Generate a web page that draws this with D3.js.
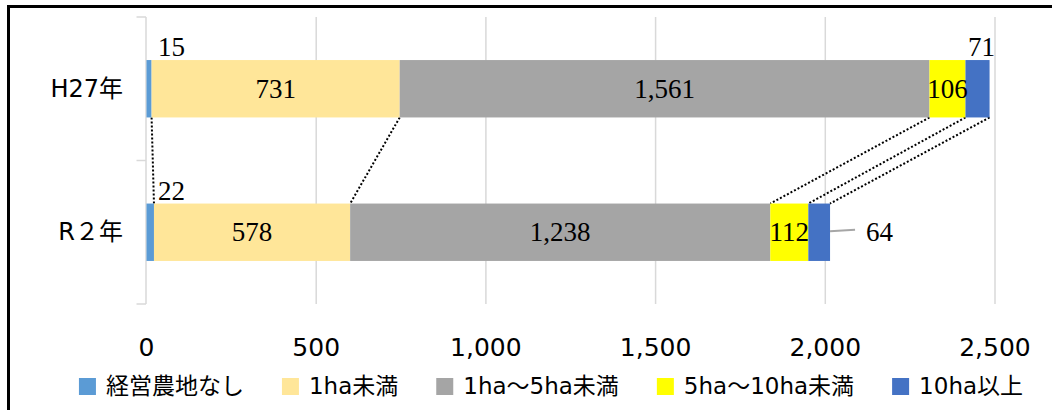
<!DOCTYPE html>
<html>
<head>
<meta charset="utf-8">
<script src="https://cdn.jsdelivr.net/npm/d3@7"></script>
<style>
  html, body { margin: 0; padding: 0; background: #fff; }
  svg { display: block; }
</style>
</head>
<body>
<svg id="chart" width="1052" height="410"></svg>
<script>
// Farm households by cultivated area, H27 vs R2
const years = ["H27年", "R２年"];
const seriesNames = ["経営農地なし", "1ha未満", "1ha～5ha未満", "5ha～10ha未満", "10ha以上"];
const seriesColors = ["#5b9bd5", "#ffe699", "#a5a5a5", "#ffff00", "#4472c4"];
const valuesH27 = [15, 731, 1561, 106, 71];
const valuesR2 = [22, 578, 1238, 112, 64];
const xTicks = [0, 500, 1000, 1500, 2000, 2500];

const rows = [valuesH27, valuesR2];

const svg = d3.select("#chart");
const W = 1052, H = 410;

// outer frame (runs off the right and bottom edges)
svg.append("path")
  .attr("d", `M8.5,${H + 5}V6.5H${W + 5}`)
  .attr("fill", "none").attr("stroke", "#000").attr("stroke-width", 3);

const x = d3.scaleLinear().domain([0, 2500]).range([146.5, 995]);
const y = d3.scaleBand().domain(years).range([17, 304]).paddingInner(0.6).paddingOuter(0.3);

// gridlines
svg.append("g").selectAll("line").data(xTicks.slice(1)).join("line")
  .attr("x1", d => x(d)).attr("x2", d => x(d))
  .attr("y1", 17).attr("y2", 304)
  .attr("stroke", "#d9d9d9").attr("stroke-width", 1.5);

// category axis line and outward ticks at band boundaries
const boundaries = [17, (y(years[0]) + y.bandwidth() + y(years[1])) / 2, 304];
svg.append("line")
  .attr("x1", x(0) - 0.5).attr("x2", x(0) - 0.5).attr("y1", 17).attr("y2", 304)
  .attr("stroke", "#d9d9d9").attr("stroke-width", 1.5);
svg.append("g").selectAll("line").data(boundaries).join("line")
  .attr("x1", x(0) - 10).attr("x2", x(0) - 0.5)
  .attr("y1", d => d).attr("y2", d => d)
  .attr("stroke", "#d9d9d9").attr("stroke-width", 1.5);

// category labels
svg.append("g").selectAll("text").data(years).join("text")
  .attr("x", 123).attr("y", d => y(d) + y.bandwidth() / 2 + 1)
  .attr("text-anchor", "end").attr("dominant-baseline", "middle")
  .attr("font-family", "'DejaVu Sans', 'Noto Sans CJK JP'")
  .attr("font-size", 24).attr("fill", "#000")
  .text(d => d);

// stacked segments
const stacked = rows.map((vals, i) => {
  let acc = 0;
  return vals.map((v, j) => {
    const s = { year: years[i], idx: j, value: v, x0: acc, x1: acc + v };
    acc += v;
    return s;
  });
});

// dotted connectors between segment boundaries of the two years
const connectors = stacked[0].map((s, j) => ({ a: s.x1, b: stacked[1][j].x1 }));
svg.append("g").selectAll("line").data(connectors).join("line")
  .attr("x1", d => x(d.a)).attr("y1", y(years[0]) + y.bandwidth())
  .attr("x2", d => x(d.b)).attr("y2", y(years[1]))
  .attr("stroke", "#000").attr("stroke-width", 2).attr("stroke-dasharray", "2 2");

svg.append("g").selectAll("rect").data(stacked.flat()).join("rect")
  .attr("x", d => x(d.x0)).attr("width", d => x(d.x1) - x(d.x0))
  .attr("y", d => y(d.year)).attr("height", y.bandwidth())
  .attr("fill", d => seriesColors[d.idx]);

// value labels
const fmt = d3.format(",");
const labelFont = "'Liberation Serif', 'Times New Roman', serif";
const labels = svg.append("g")
  .attr("font-family", labelFont).attr("font-size", 27).attr("fill", "#000");

stacked.forEach((segs, i) => {
  const top = y(years[i]);
  const mid = top + y.bandwidth() / 2;
  segs.forEach(s => {
    let lx, ly, anchor = "middle";
    if (s.idx === 0) {
      // tiny first segment: label sits above the bar
      lx = x(0) + 25; ly = top - 4;
    } else if (s.idx === 4 && i === 0) {
      lx = x((s.x0 + s.x1) / 2) + 4; ly = top - 4;
    } else if (s.idx === 4 && i === 1) {
      lx = x(s.x1) + 36; ly = mid + 9; anchor = "start";
      svg.append("path")
        .attr("d", `M${x(s.x1)},${mid - 1}L${x(s.x1) + 25},${mid - 2.5}`)
        .attr("stroke", "#a6a6a6").attr("stroke-width", 2).attr("fill", "none");
    } else {
      lx = x((s.x0 + s.x1) / 2); ly = mid + 9;
    }
    labels.append("text")
      .attr("x", lx).attr("y", ly).attr("text-anchor", anchor)
      .text(fmt(s.value));
  });
});

// value axis tick labels
svg.append("g").selectAll("text").data(xTicks).join("text")
  .attr("x", d => x(d)).attr("y", 349)
  .attr("text-anchor", "middle").attr("dominant-baseline", "middle")
  .attr("font-family", "'DejaVu Sans', sans-serif").attr("font-size", 25).attr("fill", "#000")
  .text(d => fmt(d));

// legend
const legend = svg.append("g");
const items = legend.selectAll("g").data(seriesNames).join("g");
items.append("rect").attr("width", 17).attr("height", 17).attr("y", 378)
  .attr("fill", (d, i) => seriesColors[i]);
items.append("text")
  .attr("x", 27).attr("y", 387).attr("dominant-baseline", "middle")
  .attr("font-family", "'DejaVu Sans', 'Noto Sans CJK JP'")
  .attr("font-size", 23).attr("fill", "#000")
  .text(d => d);
let cursor = 0;
const offsets = [];
items.each(function () {
  const w = d3.select(this).select("text").node().getComputedTextLength();
  offsets.push(cursor);
  cursor += 27 + w + 38;
});
const totalW = cursor - 38;
const startX = (74 + 1028) / 2 - totalW / 2;
items.attr("transform", (d, i) => `translate(${startX + offsets[i]},0)`);
</script>
</body>
</html>
